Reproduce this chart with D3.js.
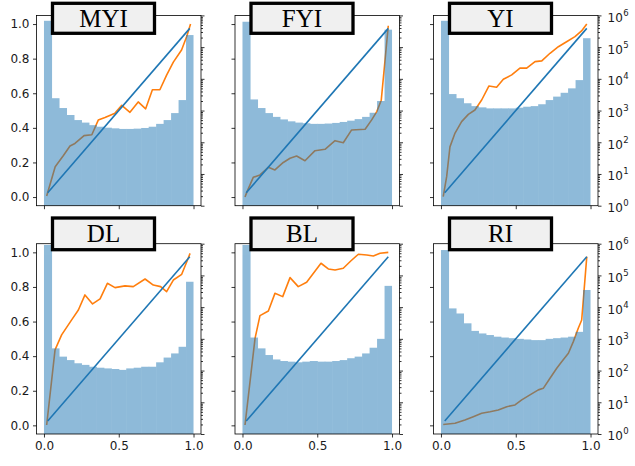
<!DOCTYPE html>
<html><head><meta charset="utf-8">
<script src="https://cdn.jsdelivr.net/npm/d3@7"></script>
<style>body{margin:0;background:#fff}</style>
</head><body>
<svg id="chart" width="635" height="466" xmlns="http://www.w3.org/2000/svg"></svg>
<script>
// ---------- data ----------
const panelNames = ["MYI", "FYI", "YI", "DL", "BL", "RI"];
const binStarts = [0, 0.05, 0.1, 0.15, 0.2, 0.25, 0.3, 0.35, 0.4, 0.45, 0.5, 0.55, 0.6, 0.65, 0.7, 0.75, 0.8, 0.85, 0.9, 0.95];
const binWidth = 0.05;

const histMYI = [676000, 2450, 1200, 724, 501, 417, 347, 309, 288, 275, 263, 263, 269, 282, 309, 380, 501, 832, 2140, 240000];
const histFYI = [631000, 2240, 1200, 832, 631, 525, 457, 417, 398, 380, 380, 389, 407, 437, 479, 537, 631, 851, 2000, 355000];
const histYI  = [676000, 3310, 2450, 1700, 1380, 1260, 1170, 1170, 1170, 1170, 1230, 1320, 1380, 1580, 2140, 2750, 3630, 5010, 9120, 191000];
const histDL  = [912000, 501, 275, 214, 170, 151, 132, 123, 117, 112, 105, 117, 123, 132, 132, 182, 257, 347, 562, 63100];
const histBL  = [912000, 1100, 501, 309, 224, 200, 191, 182, 191, 200, 191, 191, 200, 214, 245, 275, 347, 525, 1000, 46800];
const histRI  = [631000, 9120, 6310, 3090, 1780, 1480, 1320, 1170, 1100, 1050, 1000, 955, 912, 912, 1000, 1050, 1100, 1170, 1660, 34700];

const probMYI = [0.018, 0.075, 0.13, 0.174, 0.207, 0.268, 0.32, 0.363, 0.408, 0.475, 0.52, 0.575, 0.63, 0.68, 0.725, 0.775, 0.82, 0.865, 0.92, 0.955, 0.98];
const fracMYI = [0.006, 0.175, 0.24, 0.295, 0.31, 0.355, 0.36, 0.445, 0.46, 0.485, 0.53, 0.49, 0.55, 0.51, 0.62, 0.62, 0.705, 0.78, 0.85, 0.93, 1.0];
const probFYI = [0.017, 0.03, 0.072, 0.117, 0.173, 0.217, 0.273, 0.318, 0.362, 0.418, 0.485, 0.552, 0.619, 0.674, 0.73, 0.82, 0.864, 0.898, 0.928, 0.975];
const fracFYI = [0.0, 0.03, 0.114, 0.128, 0.172, 0.157, 0.2, 0.224, 0.237, 0.21, 0.268, 0.276, 0.326, 0.314, 0.388, 0.392, 0.446, 0.494, 0.56, 0.99];
const probYI  = [0.015, 0.038, 0.06, 0.094, 0.138, 0.183, 0.227, 0.272, 0.321, 0.372, 0.417, 0.473, 0.528, 0.573, 0.629, 0.674, 0.729, 0.785, 0.84, 0.896, 0.94, 0.975];
const fracYI  = [0.002, 0.118, 0.29, 0.37, 0.436, 0.478, 0.503, 0.561, 0.642, 0.635, 0.681, 0.706, 0.745, 0.745, 0.783, 0.787, 0.831, 0.869, 0.898, 0.927, 0.96, 1.0];
const probDL  = [0.018, 0.074, 0.118, 0.185, 0.23, 0.274, 0.325, 0.375, 0.424, 0.475, 0.542, 0.597, 0.676, 0.731, 0.78, 0.82, 0.865, 0.921, 0.955, 0.977];
const fracDL  = [0.002, 0.436, 0.523, 0.61, 0.667, 0.754, 0.702, 0.731, 0.821, 0.796, 0.806, 0.802, 0.846, 0.811, 0.802, 0.773, 0.84, 0.873, 0.946, 0.994];
const probBL  = [0.017, 0.084, 0.117, 0.173, 0.217, 0.269, 0.318, 0.373, 0.429, 0.525, 0.574, 0.619, 0.674, 0.724, 0.775, 0.831, 0.875, 0.92, 0.975];
const fracBL  = [0.002, 0.503, 0.634, 0.661, 0.763, 0.744, 0.854, 0.802, 0.827, 0.937, 0.904, 0.898, 0.908, 0.95, 0.989, 0.985, 0.979, 0.995, 1.0];
const probRI  = [0.015, 0.094, 0.16, 0.216, 0.272, 0.328, 0.383, 0.44, 0.495, 0.54, 0.595, 0.651, 0.684, 0.729, 0.774, 0.807, 0.852, 0.885, 0.918, 0.941, 0.975];
const fracRI  = [0.005, 0.012, 0.031, 0.05, 0.07, 0.079, 0.089, 0.108, 0.118, 0.147, 0.176, 0.205, 0.214, 0.272, 0.33, 0.368, 0.417, 0.484, 0.561, 0.609, 0.975];

const diagonal = [0.025, 0.975];
const leftTicks = [0, 0.2, 0.4, 0.6, 0.8, 1.0];
const bottomTicks = [0, 0.5, 1.0];
const logMajorExps = [0, 1, 2, 3, 4, 5, 6];
const logMajor = [1, 10, 100, 1000, 10000, 100000, 1000000];
const logMinor = [2,3,4,5,6,7,8,9, 20,30,40,50,60,70,80,90, 200,300,400,500,600,700,800,900,
  2000,3000,4000,5000,6000,7000,8000,9000, 20000,30000,40000,50000,60000,70000,80000,90000,
  200000,300000,400000,500000,600000,700000,800000,900000];

const hists = [histMYI, histFYI, histYI, histDL, histBL, histRI];
const probs = [probMYI, probFYI, probYI, probDL, probBL, probRI];
const fracs = [fracMYI, fracFYI, fracYI, fracDL, fracBL, fracRI];

// ---------- layout ----------
const colLeft = [36.5, 235, 433.5];
const rowTop = [15.4, 243.7];
const W = 164.5, H = 190.3;
const blue = "#1f77b4", orange = "#ff7f0e";
const tickFont = "'DejaVu Sans', sans-serif";

const svg = d3.select("#chart");
svg.append("rect").attr("width", 635).attr("height", 466).attr("fill", "#fff");

panelNames.forEach((name, i) => {
  const col = i % 3, row = Math.floor(i / 3);
  const g = svg.append("g").attr("transform", `translate(${colLeft[col]},${rowTop[row]})`);
  const x = d3.scaleLinear().domain([-0.05, 1.05]).range([0, W]);
  const y = d3.scaleLinear().domain([-0.05, 1.05]).range([H, 0]);
  const yLog = d3.scaleLog().domain([1, 1e6]).range([H, 0]);

  const clipId = "clip" + i;
  g.append("clipPath").attr("id", clipId).append("rect").attr("width", W).attr("height", H);
  const plot = g.append("g").attr("clip-path", `url(#${clipId})`);

  // calibration curve
  const pts = probs[i].map((p, k) => [p, fracs[i][k]]);
  plot.append("path").datum(pts)
    .attr("d", d3.line().x(d => x(d[0])).y(d => y(d[1])))
    .attr("fill", "none").attr("stroke", orange).attr("stroke-width", 1.6)
    .attr("stroke-linejoin", "round");

  // diagonal
  plot.append("path").datum(diagonal)
    .attr("d", d3.line().x(d => x(d)).y(d => y(d)))
    .attr("fill", "none").attr("stroke", blue).attr("stroke-width", 1.6);

  // histogram (log scale), semi-transparent as a group
  const hg = plot.append("g").attr("opacity", 0.5);
  hg.selectAll("rect").data(hists[i]).join("rect")
    .attr("x", (d, k) => x(binStarts[k]))
    .attr("width", (d, k) => x(binStarts[k] + binWidth) - x(binStarts[k]) + (k < 19 ? 0.6 : 0))
    .attr("y", d => yLog(d))
    .attr("height", d => yLog(1) - yLog(d) + 2)
    .attr("fill", blue);

  // axes
  const styleAxis = sel => {
    sel.select(".domain").remove();
    sel.selectAll(".tick line").attr("stroke", "#000").attr("stroke-width", 0.8);
    sel.selectAll("text").attr("fill", "#1a1a1a").style("font-family", tickFont).style("font-size", "12px");
  };
  g.append("g").call(d3.axisLeft(y).tickValues(leftTicks).tickSize(3.5).tickPadding(3.5)
      .tickFormat(col === 0 ? d3.format(".1f") : () => "")).call(styleAxis);
  g.append("g").attr("transform", `translate(0,${H})`)
    .call(d3.axisBottom(x).tickValues(bottomTicks).tickSize(3.5).tickPadding(4)
      .tickFormat(row === 1 ? d3.format(".1f") : () => "")).call(styleAxis);
  g.append("g").attr("transform", `translate(${W},0)`)
    .call(d3.axisRight(yLog).tickValues(logMajor).tickSize(3.5).tickFormat(() => "")).call(styleAxis);
  g.append("g").attr("transform", `translate(${W},0)`)
    .call(d3.axisRight(yLog).tickValues(logMinor).tickSize(2).tickFormat(() => "")).call(styleAxis);

  if (col === 2) {
    const lab = g.append("g").selectAll("text").data(logMajor).join("text")
      .attr("x", W + 9.5).attr("y", d => yLog(d) + 6.5)
      .attr("fill", "#1a1a1a").style("font-family", tickFont).style("font-size", "12px");
    lab.append("tspan").text("10");
    lab.append("tspan").attr("dy", -6).attr("dx", 0.5).style("font-size", "8.5px")
      .text((d, k) => logMajorExps[k]);
  }

  // frame
  g.append("rect").attr("width", W).attr("height", H)
    .attr("fill", "none").attr("stroke", "#000").attr("stroke-width", 0.8);

  // title box
  const boxY = row === 0 ? 3.3 - rowTop[0] : 218 - rowTop[1];
  const boxH = row === 0 ? 30 : 31.7;
  const tb = g.append("g").attr("transform", `translate(16,${boxY})`);
  tb.append("rect").attr("width", 102).attr("height", boxH)
    .attr("fill", "#f0f0f0").attr("stroke", "#000").attr("stroke-width", 3.3);
  tb.append("text").attr("x", 51).attr("y", boxH / 2 + 8.3)
    .attr("text-anchor", "middle")
    .style("font-family", "'Liberation Serif', 'Times New Roman', serif")
    .style("font-size", "25px").attr("fill", "#000")
    .text(name);
});
</script>
</body></html>
